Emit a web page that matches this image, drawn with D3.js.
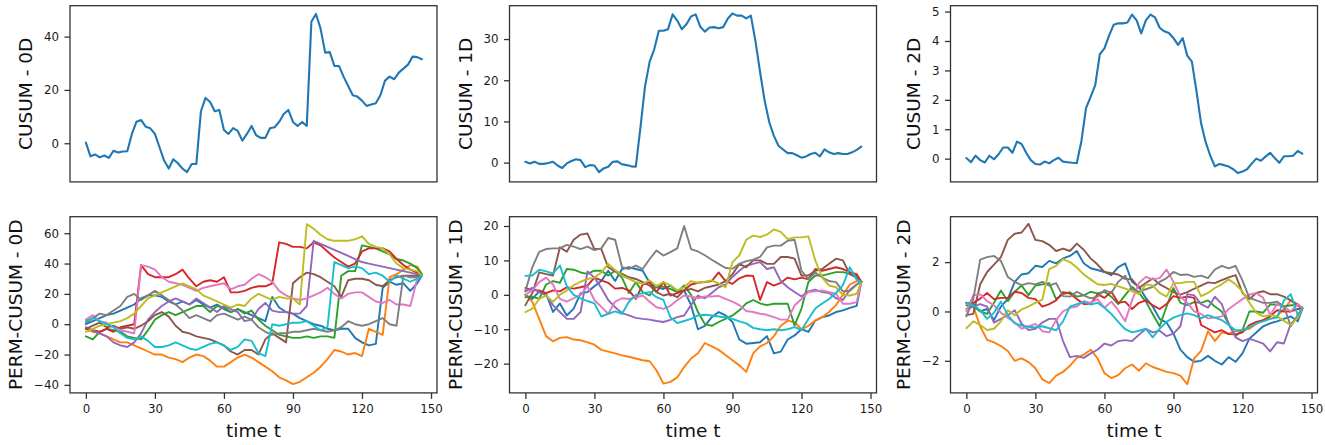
<!DOCTYPE html>
<html>
<head>
<meta charset="utf-8">
<title>CUSUM / PERM-CUSUM</title>
<script src="https://d3js.org/d3.v7.min.js"></script>
<style>
    body { margin: 0; background: #ffffff; }
    svg { display: block; font-family: "DejaVu Sans", sans-serif; }
    .frame { fill: none; stroke: #333; stroke-width: 1.3; }
    .tick line { stroke: #333; stroke-width: 1.3; }
    .tick text { fill: #1a1a1a; }
    .series { fill: none; stroke-linejoin: round; stroke-linecap: round; }
</style>
</head>
<body>
<div id="chart"></div>
<script>
const width = 1325;
const height = 445;

// time axis
const topTimes = d3.range(0, 147, 2);                 // every 2nd step, 0..146
const permTimes = d3.range(0, 145, 3).concat([146]);  // every 3rd step, then the last one
const xTicks = [0, 30, 60, 90, 120, 150];
const xDomain = [-6.9, 152.6];

// top row: observed CUSUM
const cusum0D = [0.25,-4.9,-4.2,-5.3,-4.6,-5.5,-2.8,-3.5,-3.1,-3.0,
    3.5,8.1,8.7,6.2,5.6,3.5,-1.5,-6.5,-9.5,-6,
    -7.5,-9.5,-10.8,-7.8,-7.8,12,17,15.5,12,12.5,
    5,3.5,5.7,4.6,1,3.5,6.5,3,2,2,
    5.6,6,8,11,12.5,8,6.5,8,6.5,45.6,
    48.5,43,34,34.2,29,29,25,21.5,18,17.5,
    16,14,14.5,15,18,23.5,25,24,26.5,28,
    29.5,32.5,32.3,31.5];
const cusum1D = [0.2,-0.2,0.2,-0.3,-0.3,-0.1,0.2,-0.7,-1.3,-0.2,
    0.4,0.8,0.6,-1.1,-0.6,-0.7,-2.3,-1.4,-1.0,0.2,
    0.3,-0.4,-0.6,-0.9,-1.0,8.5,18.5,24.5,27.5,32,
    32,32.4,36,34.5,32.4,33.6,35.5,36,33,31.8,
    32.8,32.9,32.6,32.9,35,36.2,35.7,35.7,35,35.7,
    29.5,22,15,9.8,6.5,4.1,3.2,2.3,2.3,1.8,
    1.2,1.5,2.1,2.4,1.5,3.2,2.5,2.1,2.3,2.1,
    2.1,2.5,3.1,3.9];
const cusum2D = [0.02,-0.12,0.1,-0.05,-0.13,0.1,-0.02,0.15,0.38,0.38,
    0.2,0.58,0.5,0.2,-0.05,-0.18,-0.2,-0.1,-0.16,-0.05,
    0.03,-0.1,-0.12,-0.14,-0.15,0.6,1.72,2.1,2.5,3.55,
    3.75,4.18,4.55,4.6,4.6,4.63,4.9,4.7,4.26,4.7,
    4.9,4.8,4.45,4.33,4.27,4.1,3.87,4.1,3.5,3.3,
    2.3,1.2,0.56,0.1,-0.26,-0.18,-0.22,-0.27,-0.36,-0.49,
    -0.44,-0.36,-0.17,0.0,-0.07,0.07,0.2,0.02,-0.14,0.08,
    0.08,0.1,0.26,0.17];

// bottom row: ten permutations each (tab10 order)
const perm0D = [
    [0,2,4,6,7,9,11,13,17,19, 19,18,15,13,15,13,16,13,11,13, 10,8,10,8,6,4,2,18,11,8, 7,4,2,0,-1,-3,-4,-3,-3,-9, -12,-14,-13,24,28,26,27,22,27,32],
    [-3,-5,-6,-8,-10,-12,-12,-14,-16,-18, -20,-20,-22,-23,-25,-22,-20,-21,-24,-28, -28,-25,-22,-20,-22,-25,-28,-31,-35,-37, -39.5,-38,-35,-32,-28,-23,-17,-18,-20,-19, -21,-3,-5,-7,31,33,36,39,38,33],
    [-8,-10,-5,-3,-4,-5,-8,-9,-10,-4, 3,6,8,6,8,10,12,12,8,12, 11,8,10,7,9,3,-1,-4,-7,-8, -9,-9,-8,-9,-8,-8,-9,32,35,35, 52,51,50,48,46,43,42,40,37,33],
    [-3,-4,-5,-3,-5,-2,-1,0,39,33, 31,31,31,33,36,30,25,28,29,28, 31,21,21,22,24,25,25,27,54,53, 51,51,50,54,52,48,44,41,38,40, 48,50,50,50,48,43,39,36,34,32],
    [-2,-4,-6,-8,-12,-14,-15,-12,-6,3, 8,12,15,17,15,13,17,14,11,8, 12,10,8,2,3,10,14,9,8,8, 7,7,12,55,53,51,49,47,45,43, 41,40,39,38,37,36,35,34,33,32],
    [-3,-1,1,-2,-1,-3,-2,-3,-1,2, 6,8,5,-1,-5,-6,-8,-9,-10,-12, -14,-18,-20,-17,-17,-20,-10,-6,-9,-12, 27,31,34,33,31,28,25,18,29,30, 30,29,26,25,29,31,32,32,32,32],
    [3,6,2,1,-2,-4,-5,-6,39,38, 36,31,28,27,26,24,22,24,25,26, 27,23,25,26,30,33,31,28,22,19, 17,16,17,19,21,24,20,17,20,21, 21,18,15,14,16,13,13,12,30,32],
    [1,4,7,6,9,12,18,20,16,19, 22,19,16,13,9,4,6,4,2,6, 7,5,3,5,3,-2,-5,-7,-6,-6, -5,-5,-4,-3,-4,-5,-4,-2,2,0, -1,0,2,4,0,-1,32,31,31,32],
    [-5,-3,-1,0,1,2,4,7,12,17, 19,21,23,25,27,25,23,19,17,15, 13,11,13,12,17,20,18,16,18,17, 17,13,66,63,59,56,55,55,55,56, 58,53,51,50,46,40,37,36,35,32],
    [2,4,2,0,-2,-6,-9,-10,-8,-11, -15,-15,-14,-12,-14,-16,-17,-15,-13,-12, -14,-17,-15,-10,-11,-19,-21,0,-1,0, 1,1,2,-1,-4,-2,41,39,37,38, 37,33,34,32,28,32,30,28,30,32]
];
const perm1D = [
    [0,-1.2,1,0.3,-5,-2.5,-6,-4,0.5,0.8, 2.5,4,7,4,7.5,8,7.5,7,3.5,2.2, 1.7,2.7,1,1.3,-3,-10,-9,-6.5,-5,-6, -7.9,-13,-14.2,-14,-13.8,-12,-17,-16.5,-13,-11.8, -10,-10.8,-7.5,-6.5,-6,-5,-4.5,-3.8,-3.2,3.8],
    [0,-2,-7,-12,-13.5,-12.5,-12.3,-13,-13.2,-13.8, -14.5,-16,-16.5,-17,-17.6,-18,-18.5,-19,-19.3,-22, -25.8,-25.3,-24,-21,-18.5,-17,-14,-15,-16,-17.5, -19,-20.5,-22.4,-17,-15,-14,-12,-9,-7.5,-8, -10,-9,-7.5,-6.5,-5,-3,0,3,4,3.8],
    [-0.7,-0.5,-1.2,3,4,3.5,7.5,7.3,6.5,6.1, 7,7,5.6,7,5,0.5,3.7,0.8,-0.2,2.7, 2.3,1.7,0.8,2.7,0,-5,-8.5,-9,-7.9,-7, -6,-4.5,-2.5,-1.5,-2.5,-3,-2.6,-2.6,-2.6,-8.9, -4,3.7,5.6,5.6,6.1,6.6,6.6,6.1,5.6,3.8],
    [2,1.3,1.3,0.5,1.3,1,2.2,1.8,2.2,2.7, 5,4.2,3.5,1.8,2,1.3,-1.2,3,3.7,0.8, 3.7,-0.2,0.5,1.3,3,3.5,3.7,4,6.5,4, 3.2,4.8,5.6,5.5,-1.5,3.7,2.7,3.5,5,4.5, 5,4.5,7.5,7,7.5,8,7.5,6.6,6,3.8],
    [1,2,0.8,-0.2,-3,-5,-7,-7,-5,6.8, 5,2,-1.5,-3.6,-5.3,-6,-6.7,-7,-7.2,-7.6, -7.9,-7.3,-6.5,-6,-3,-0.2,-1,0.5,2.2,3, 5.2,7,8.5,9,9.5,7.5,8,4,2.2,0.8, -0.5,1,1.5,0.8,0.5,-1,-1.5,1.5,3,3.8],
    [-3,0.5,6.5,6,5.6,13.8,12.5,16,17.5,17.8, 13.3,13.3,8,6.8,6.1,5.1,4.6,3.7,2.7,0.8, -0.2,0.3,-0.7,1.3,1.7,1,2,2.5,3,4, 6,9,8,10,10,9,9,11,11,10.5, 5.6,5.6,7,7.5,9,10.5,10,6,5,3.8],
    [0,1.3,3.7,5,3,-1.2,-2,-1,0,2.5, -1.5,-3.5,-5.5,-2,-1,-1.2,-0.8,-0.2,-2,-3.6, -4.1,-3.2,-1.6,-0.2,-0.5,-1,-0.5,-0.5,-0.3,-1.2, -2,-3,-4.7,-5,-5.5,-5.8,-6.5,-7.2,-7.2,-3.1, -1.2,0.8,1,1.3,0.8,0.3,-2.6,-2.6,-2.1,3.8],
    [1,8,12.5,13.3,13.5,13.5,14.5,14,13.3,14, 13,13.5,16.5,16,8,7.5,8.5,7.5,10.4,12.9, 11.4,12.4,13.5,20,13.3,12.6,11.5,10.2,9,7.8, 7.6,9,9.8,10.2,11,13.8,14.3,14.3,15.7,16, 7,4.5,6.5,5,4,3.7,1,1.2,3,3.8],
    [-5,-4,-1.2,-0.2,-2,0,1.3,2.8,3.8,4.6, 5,6.5,9,7.2,5.6,4.6,3.7,3.2,4.2,2.5, 3.7,2.8,1.3,2.2,4,3.5,3.8,4.2,3.3,2.2, 9.5,11.5,16,17.2,16.8,17.5,19,18.3,16.2,16.7, 16.7,17,10,5,2.7,2.2,0,-0.2,0.3,3.8],
    [5.5,5.6,7.3,6.8,6.2,8.5,2.5,0,-1,-1.8, -2.5,-6.3,-5.5,-4.8,-5.5,-2,0,0.5,0.8,-0.7, -1.5,-6.5,-8.2,-7.6,-7,-6,-5.8,-6,-6.3,-6.6, -7,-7.7,-8.3,-9.6,-10,-10.3,-10,-10.3,-10,-9.4, -10.2,-7,-4,-2.5,-1.2,0.5,2.8,8,4.4,3.8]
];
const perm2D = [
    [0.35,0.3,0,0.1,-0.35,0.2,0.5,1.2,1.5,1.55, 1.85,1.8,2.05,1.95,2.15,2.25,2.45,1.95,1.75,1.68, 1.6,1.47,1.8,1.95,1.2,1.0,0.55,0.2,-0.3,-0.45, -0.9,-1.55,-1.85,-2.04,-2.0,-1.8,-2.0,-2.15,-1.85,-2.04, -1.7,-1.1,-0.85,-0.6,-0.48,-0.4,-0.3,-0.2,-0.4,0.1],
    [0.36,0.2,-0.6,-1.15,-1.25,-1.4,-1.6,-2,-1.9,-2.05, -2.3,-2.75,-2.9,-2.6,-2.45,-2.2,-1.88,-1.75,-1.55,-1.9, -2.5,-2.7,-2.58,-2.3,-2.15,-2.4,-2.1,-2.25,-2.35,-2.45, -2.5,-2.6,-2.95,-1.9,-1.6,-0.8,-1.2,-0.85,-0.9,-0.8, -0.75,-0.7,-0.5,-0.35,-0.3,-0.2,0.1,0.45,0.3,0.1],
    [0.25,0.2,0,-0.1,0.35,0.85,0.42,0.8,1.05,0.66, 1.05,1.1,1.15,0.5,0.7,0.78,0.6,0.65,0.8,0.73, 0.8,0.6,0.3,0.66,1.0,0.75,0.4,-0.1,-0.6,0.2, 0.95,0.35,0.26,0.38,0.35,0.45,0.2,0,-0.5,-1.0, -0.75,0,0,-0.05,0.28,0.28,0.2,0.25,0.25,0.15],
    [0.35,0.35,0.52,0.75,0.5,0.55,0.55,0.8,0.75,0.55, 0.5,0.2,0.3,0.45,0.78,0.73,0.5,0.3,0.3,0.7, 0.55,0.8,0.35,0.4,0.1,0.35,0.45,0.25,0.1,0.3, 0.62,0.55,0.6,0.55,-0.55,-0.7,-0.85,-0.76,-0.92,-0.93, -0.85,-0.55,-0.42,-0.35,-0.2,0.05,0,0,0.1,0.12],
    [0.1,0.2,0.3,0.2,-0.45,-0.3,-0.15,0.05,-0.5,-0.75, -0.7,-0.45,-0.3,-0.3,-1.2,-1.85,-1.8,-1.88,-1.7,-1.55, -1.3,-1.38,-1.2,-1.16,-1.2,-0.95,-0.7,-0.85,-0.78,-1.0, -0.9,-0.6,0.7,0.65,0.3,0.15,0.6,0.3,-0.5,-1.05, -1.2,-1.1,-1.2,-1.3,-1.62,-1.25,-1.3,-0.5,-0.25,0.1],
    [-0.15,-0.1,1.1,1.6,1.9,2.2,2.9,3.15,3.2,3.55, 2.9,2.85,2.7,2.45,2.55,2.45,2.75,2.5,2.15,1.9, 1.6,1.55,1.5,1.32,1.3,0.95,1.15,1.34,1.1,0.95, 0.78,0.68,0.78,0.92,1.05,1.18,1.15,1.27,1.38,1.47, 0.75,0.5,0.75,0.82,0.7,0.7,0.6,0.45,0.25,0.12],
    [0,0.66,0.7,0.42,0.25,-0.05,-0.25,-0.45,-0.7,-0.6, -0.5,-0.8,-0.85,-0.35,0,0.15,0.2,0.42,0.35,0.5, 0.15,0.4,0.05,-0.4,0.45,1.15,1.4,1.3,1.35,1.7, 1.2,0.6,0.35,0,-0.1,-0.28,-0.25,-0.2,0.1,0.3, 0.5,0.68,0.75,0.55,-0.15,0.3,0.2,0,0.3,0.15],
    [-0.2,0.5,2.1,2.2,2.25,2.05,1.4,1.2,1.07,1.15, 1.1,1.2,1.05,1.15,0.62,0.6,0.8,0.65,0.53,0.6, 0.86,0.75,1.2,1.45,0.9,0.8,0.9,1.0,1.2,1.35, 1.6,1.48,1.5,1.4,1.45,1.35,1.7,1.85,1.75,1.85, 1.25,0.55,0.45,0.35,0.35,0.4,0.2,-0.6,-0.15,0.15],
    [-0.68,-0.4,-0.55,-0.75,-0.7,-0.4,0.05,-0.15,0.08,0.2, 0.35,0.48,1.72,1.85,2.12,2.0,1.78,1.5,1.3,1.1, 1.07,1.12,1.02,0.93,0.82,0.7,1.1,1.05,0.75,0.6, 1.15,1.15,1.2,1.2,0.62,0.75,0.95,1.1,1.3,1.1, 0.8,0.35,-0.05,-0.2,-0.15,-0.2,-0.38,-0.55,-0.25,0.15],
    [0.35,0.25,0.05,-0.3,-0.05,0.4,-0.15,-0.48,-0.57,-0.62, -0.65,-0.6,-0.68,-0.76,-0.4,0.2,0.3,0.38,0.28,0.35, 0.15,-0.1,-0.42,-0.72,-0.85,-0.78,-0.7,-1.05,-0.7,-0.42, -0.25,-0.15,-0.08,-0.15,-0.28,-0.15,-0.25,-0.35,-0.55,-0.76, -0.76,-0.65,-0.48,-0.4,-0.3,-0.25,0.45,0.7,-0.15,0.15]
];

// axis labels and y ticks
const topLabels = ['CUSUM - 0D', 'CUSUM - 1D', 'CUSUM - 2D'];
const permLabels = ['PERM-CUSUM - 0D', 'PERM-CUSUM - 1D', 'PERM-CUSUM - 2D'];
const topYTicks = [[0, 20, 40], [0, 10, 20, 30], [0, 1, 2, 3, 4, 5]];
const permYTicks = [[-40, -20, 0, 20, 40, 60], [-20, -10, 0, 10, 20], [-2, 0, 2]];
const topYDomains = [[-14.5, 51.6], [-4.68, 38.1], [-0.79, 5.2]];
const permYDomains = [[-45.3, 70.9], [-28.5, 22.7], [-3.3, 3.84]];

const colors = d3.schemeCategory10;   // same as matplotlib tab10
const xLabel = 'time t';

// layout
const colLeft = [70, 509.5, 950.5];
const panelW = 367;
const rowTop = [5.7, 216.7];
const panelH = 176.2;

const svg = d3.select('#chart')
    .append('svg')
    .attr('width', width)
    .attr('height', height);

let clipId = 0;

function drawPanel(cfg) {
    const g = svg.append('g')
        .attr('transform', `translate(${cfg.left},${cfg.top})`);

    const x = d3.scaleLinear().domain(xDomain).range([0, panelW]);
    const y = d3.scaleLinear().domain(cfg.yDomain).range([panelH, 0]);

    const id = 'clip' + (clipId++);
    g.append('clipPath').attr('id', id)
        .append('rect').attr('width', panelW).attr('height', panelH);

    const line = d3.line()
        .x((d, i) => x(cfg.times[i]))
        .y(d => y(d));

    g.append('g')
        .attr('clip-path', `url(#${id})`)
        .selectAll('path')
        .data(cfg.series)
        .join('path')
        .attr('class', 'series')
        .attr('stroke', (d, i) => colors[i])
        .attr('stroke-width', cfg.lineWidth)
        .attr('d', line);

    // y axis
    const yAxis = g.append('g')
        .call(d3.axisLeft(y)
            .tickValues(cfg.yTicks)
            .tickSize(5.5)
            .tickPadding(5.5)
            .tickFormat(d3.format('d')));
    yAxis.select('.domain').remove();
    yAxis.attr('font-size', 11.8).attr('font-family', null);

    // x axis only on the bottom row
    if (cfg.showX) {
        const xAxis = g.append('g')
            .attr('transform', `translate(0,${panelH})`)
            .call(d3.axisBottom(x)
                .tickValues(xTicks)
                .tickSize(6)
                .tickPadding(5.5)
                .tickFormat(d3.format('d')));
        xAxis.select('.domain').remove();
        xAxis.attr('font-size', 11.8).attr('font-family', null);

        g.append('text')
            .attr('x', panelW / 2)
            .attr('y', panelH + 44.3)
            .attr('text-anchor', 'middle')
            .attr('font-size', 18.5)
            .attr('fill', '#111')
            .text(xLabel);
    }

    // frame on top of the lines
    g.append('rect')
        .attr('class', 'frame')
        .attr('width', panelW)
        .attr('height', panelH);

    // y label sits a fixed gap left of the tick labels
    const bb = yAxis.node().getBBox();
    g.append('text')
        .attr('transform', `translate(${bb.x - 11.7},${panelH / 2}) rotate(-90)`)
        .attr('text-anchor', 'middle')
        .attr('font-size', 18.5)
        .attr('fill', '#111')
        .text(cfg.label);
}

const topSeries = [cusum0D, cusum1D, cusum2D];
const permSeries = [perm0D, perm1D, perm2D];

for (let c = 0; c < 3; c++) {
    drawPanel({
        left: colLeft[c], top: rowTop[0],
        times: topTimes, series: [topSeries[c]],
        yDomain: topYDomains[c], yTicks: topYTicks[c],
        label: topLabels[c], showX: false, lineWidth: 2.1
    });
    drawPanel({
        left: colLeft[c], top: rowTop[1],
        times: permTimes, series: permSeries[c],
        yDomain: permYDomains[c], yTicks: permYTicks[c],
        label: permLabels[c], showX: true, lineWidth: 1.9
    });
}
</script>
</body>
</html>
